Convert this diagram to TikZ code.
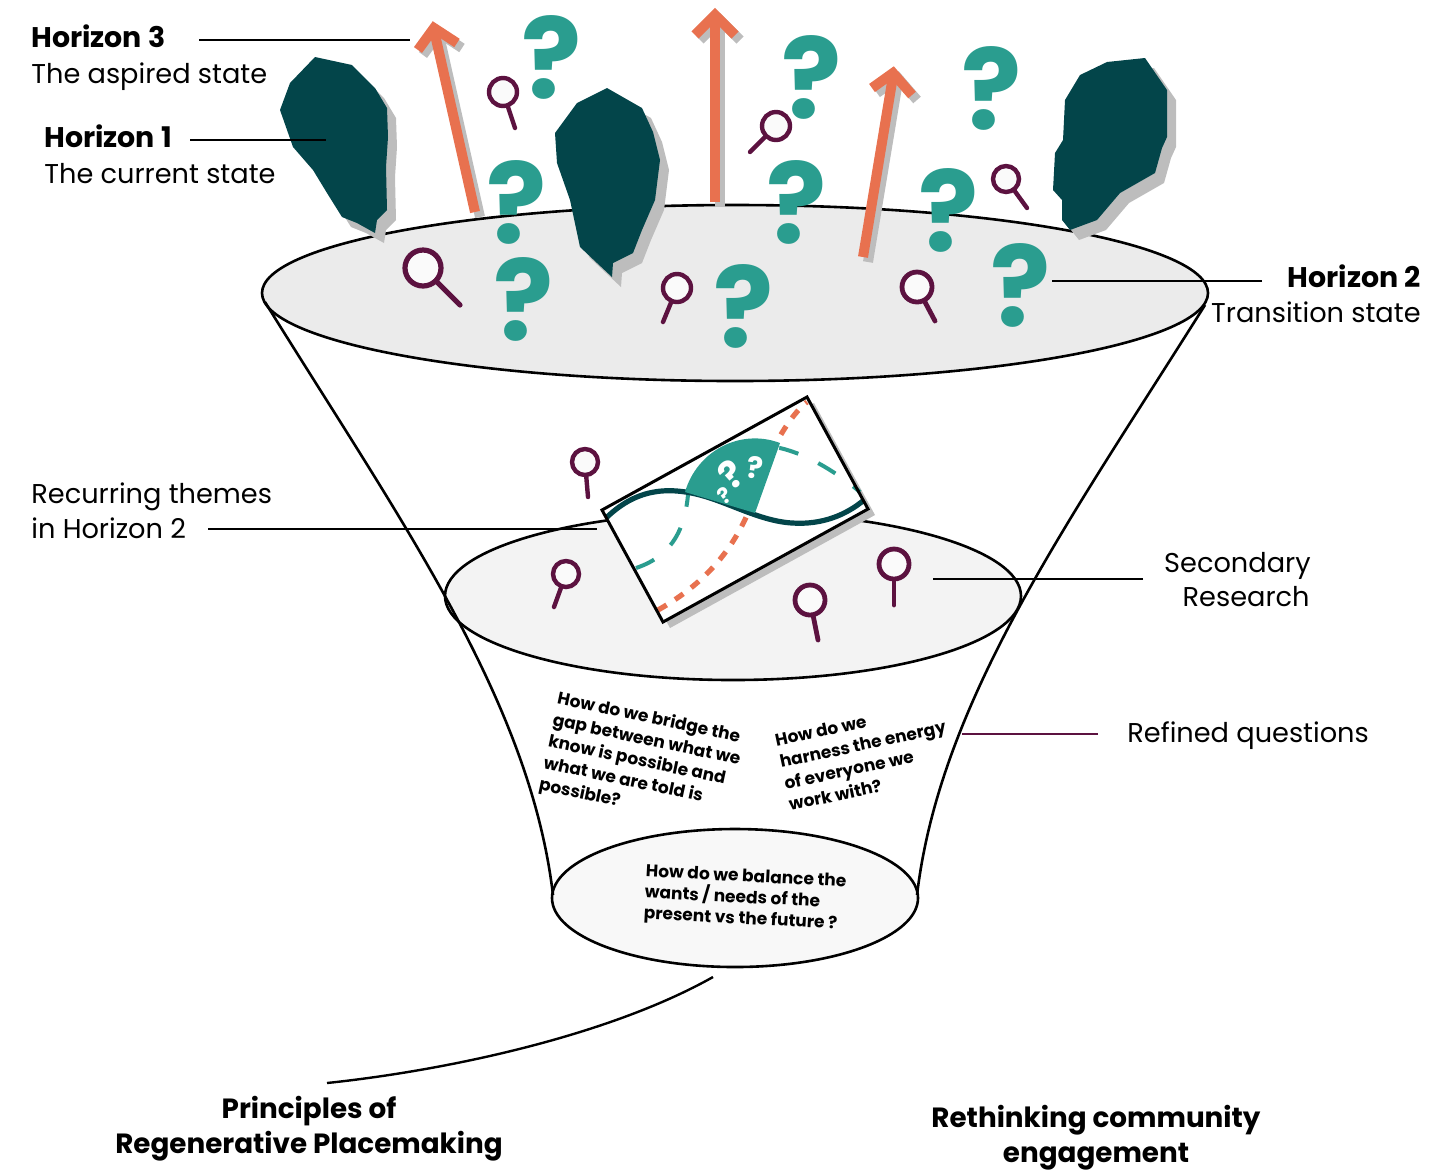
\documentclass[tikz,border=0pt]{standalone}
\usepackage{fontspec}
\setmainfont{Poppins}
\usetikzlibrary{calc}

\definecolor{coral}{HTML}{E8714F}
\definecolor{qteal}{HTML}{2A9D8F}
\definecolor{deepteal}{HTML}{03454A}
\definecolor{plum}{HTML}{5C1240}
\definecolor{shadowgrey}{HTML}{BDBDBD}
\definecolor{rimtop}{HTML}{EBEBEB}
\definecolor{rimmid}{HTML}{F3F3F3}
\definecolor{rimlow}{HTML}{F8F8F8}

% magnifier: centre, radius, end of handle, stroke width
\newcommand{\lens}[4]{%
  \draw[plum, line width=#4, line cap=round] (#1) -- (#3);
  \draw[plum, line width=#4, fill=white!60!rimmid] (#1) circle [radius=#2];}

\begin{document}
\begin{tikzpicture}[x=0.5pt, y=-0.5pt,
  rim/.style={line width=1.3pt, draw=black},
  leader/.style={line width=1.2pt, draw=black},
  lbl/.style={inner sep=0pt, font=\fontsize{13.6}{16}\selectfont},
  lblb/.style={lbl, font=\fontsize{14.2}{16}\selectfont\bfseries},
  capb/.style={inner sep=0pt, align=center, font=\fontsize{13.9}{17.5}\selectfont\bfseries},
  qtext/.style={inner sep=0pt, align=left, font=\fontsize{8.5}{11}\selectfont\bfseries},
  qmark/.style={inner sep=0pt, text=qteal, font=\fontsize{56}{56}\selectfont\bfseries},
  wmark/.style={inner sep=0pt, text=white, font=\bfseries},
  blob/.style={fill=deepteal},
  blobshadow/.style={fill=shadowgrey},
  shaft/.style={draw=coral, line width=5pt},
  shaftshadow/.style={draw=shadowgrey, line width=5pt},
]
\useasboundingbox (0,0) rectangle (1454,1169);

% ---------- funnel ----------
\draw[rim, fill=rimtop] (735,293) ellipse [x radius=473, y radius=88];
\draw[rim, fill=rimmid] (733,596) ellipse [x radius=288, y radius=84];
\draw[rim, fill=rimlow] (735,898) ellipse [x radius=183, y radius=69];
\draw[rim] (265,302) .. controls (400,520) and (530,700) .. (553,895);
\draw[rim] (1205,305) .. controls (1070,520) and (940,700) .. (917,895);

% ---------- horizon 1 shapes ----------
\begin{scope}[shift={(9,10)}]
\fill[blobshadow] (315,57) -- (352,65) -- (375,88) -- (387,108) -- (388,137) -- (386,167) -- (387,210) -- (377,220) -- (375,233) -- (357,223) -- (342,217) -- (327,193) -- (313,170) -- (293,147) -- (280,110) -- (290,83) -- cycle;
\fill[blobshadow] (607,88) -- (642,108) -- (653,132) -- (660,160) -- (655,200) -- (642,230) -- (633,253) -- (613,263) -- (612,277) -- (597,263) -- (580,247) -- (570,200) -- (557,163) -- (555,133) -- (577,103) -- cycle;
\fill[blobshadow] (1145,58) -- (1167,90) -- (1167,137) -- (1162,148) -- (1155,173) -- (1120,193) -- (1097,220) -- (1070,230) -- (1062,220) -- (1062,200) -- (1053,190) -- (1055,153) -- (1063,140) -- (1065,100) -- (1080,75) -- (1107,62) -- cycle;
\end{scope}
\fill[blob] (315,57) -- (352,65) -- (375,88) -- (387,108) -- (388,137) -- (386,167) -- (387,210) -- (377,220) -- (375,233) -- (357,223) -- (342,217) -- (327,193) -- (313,170) -- (293,147) -- (280,110) -- (290,83) -- cycle;
\fill[blob] (607,88) -- (642,108) -- (653,132) -- (660,160) -- (655,200) -- (642,230) -- (633,253) -- (613,263) -- (612,277) -- (597,263) -- (580,247) -- (570,200) -- (557,163) -- (555,133) -- (577,103) -- cycle;
\fill[blob] (1145,58) -- (1167,90) -- (1167,137) -- (1162,148) -- (1155,173) -- (1120,193) -- (1097,220) -- (1070,230) -- (1062,220) -- (1062,200) -- (1053,190) -- (1055,153) -- (1063,140) -- (1065,100) -- (1080,75) -- (1107,62) -- cycle;

% ---------- horizon 3 arrows ----------
\begin{scope}[shift={(5,5)}]
\draw[shaftshadow] (475,212) -- (434,30);
\draw[shaftshadow, miter limit=10] (418,50) -- (434,28) -- (457,43);
\draw[shaftshadow] (715,202) -- (715,18);
\draw[shaftshadow, miter limit=10] (695,35) -- (715,15) -- (735,35);
\draw[shaftshadow] (863,257) -- (893,76);
\draw[shaftshadow, miter limit=10] (872,88) -- (893,73) -- (912,95);
\end{scope}
\draw[shaft] (475,212) -- (434,30);
\draw[shaft, miter limit=10] (418,50) -- (434,28) -- (457,43);
\draw[shaft] (715,202) -- (715,18);
\draw[shaft, miter limit=10] (695,35) -- (715,15) -- (735,35);
\draw[shaft] (863,257) -- (893,76);
\draw[shaft, miter limit=10] (872,88) -- (893,73) -- (912,95);

% ---------- questions of horizon 2 ----------
\node[qmark] (q1) at (552,57) {?};
\node[qmark] (q2) at (517,202) {?};
\node[qmark] (q3) at (524,299) {?};
\node[qmark] (q4) at (744,306) {?};
\node[qmark] (q5) at (812,77) {?};
\node[qmark] (q6) at (797,202) {?};
\node[qmark] (q7) at (949,210) {?};
\node[qmark] (q8) at (992,88) {?};
\node[qmark] (q9) at (1021,285) {?};

% ---------- magnifiers ----------
\lens{503,92}{14}{515,128}{2.2pt}
\lens{423,268}{18}{460,305}{2.6pt}
\lens{677,288}{14}{663,322}{2.2pt}
\lens{776,126}{14}{750,152}{2.2pt}
\lens{1006,179}{13}{1027,208}{2.2pt}
\lens{917,287}{15}{935,321}{2.4pt}
\lens{585,462}{13}{588,497}{2.2pt}
\lens{566,574}{13}{554,607}{2.2pt}
\lens{810,600}{15}{818,640}{2.4pt}
\lens{894,564}{15}{894,605}{2.4pt}

% ---------- map card ----------
\fill[shadowgrey] (609,516) -- (814,403) -- (875,515) -- (670,628) -- cycle;
\fill[white] (602,510) -- (807,397) -- (868,509) -- (663,622) -- cycle;
\draw[coral, line width=2.6pt, dash pattern=on 5pt off 5pt]
  (658,610) .. controls (720,575) and (745,530) .. (760,480) .. controls (770,450) and (790,415) .. (807,402);
\draw[qteal, line width=2pt, dash pattern=on 10pt off 11pt]
  (636,568) .. controls (675,555) and (685,525) .. (688,495) .. controls (690,460) and (740,440) .. (780,448) .. controls (810,455) and (840,475) .. (860,492);
\draw[deepteal, line width=2.6pt]
  (606,518) .. controls (635,490) and (665,486) .. (700,495) .. controls (730,503) and (760,521) .. (792,523) .. controls (822,525) and (846,515) .. (864,500);
\fill[qteal] (755,513) -- (685,492) .. controls (697,451) and (740,428) .. (780,443) -- cycle;
\node[wmark, rotate=40, font=\fontsize{19}{19}\selectfont\bfseries] (w1) at (731,474) {?};
\node[wmark, rotate=-8, font=\fontsize{15}{15}\selectfont\bfseries] (w2) at (755,468) {?};
\node[wmark, rotate=35, font=\fontsize{11}{11}\selectfont\bfseries] (w3) at (725,495) {?};
\draw[line width=1.5pt, line join=miter] (602,510) -- (807,397) -- (868,509) -- (663,622) -- cycle;

% ---------- refined questions ----------
\node[qtext, rotate=-12] (qa) at (642,762) {How do we bridge the\\gap between what we\\know is possible and\\what we are told is\\possible?};
\node[qtext, rotate=12] (qb) at (865,755) {How do we\\harness the energy\\of everyone we\\work with?};
\node[qtext, rotate=-3, font=\fontsize{8.5}{10.6}\selectfont\bfseries] (qc) at (745,899) {How do we balance the\\wants / needs of the\\present vs the future ?};

% ---------- labels ----------
\node[lblb, anchor=base west] (h3) at (31,47) {Horizon 3};
\node[lbl, anchor=base west] (h3s) at (31,83) {The aspired state};
\node[lblb, anchor=base west] (h1) at (44,147) {Horizon 1};
\node[lbl, anchor=base west] (h1s) at (44,183) {The current state};
\node[lblb, anchor=base east] (h2) at (1421,287) {Horizon 2};
\node[lbl, anchor=base east] (h2s) at (1421,322) {Transition state};
\node[lbl, anchor=base west] (rt1) at (31,503) {Recurring themes};
\node[lbl, anchor=base west] (rt2) at (31,538) {in Horizon 2};
\node[lbl, anchor=base east] (sr1) at (1311,572) {Secondary};
\node[lbl, anchor=base east] (sr2) at (1310,606) {Research};
\node[lbl, anchor=base west] (rq) at (1127,742) {Refined questions};
\node[capb] (prp) at (309,1129) {Principles of\\Regenerative Placemaking};
\node[capb] (rce) at (1096,1138) {Rethinking community\\engagement};

% ---------- leader lines ----------
\coordinate (h3a) at (199,40);   \coordinate (h3b) at (410,40);
\coordinate (h1a) at (190,140);  \coordinate (h1b) at (326,140);
\coordinate (h2a) at (1262,281); \coordinate (h2b) at (1052,281);
\coordinate (rta) at (208,529);  \coordinate (rtb) at (597,529);
\coordinate (sra) at (1143,579); \coordinate (srb) at (933,579);
\coordinate (rqa) at (1098,734); \coordinate (rqb) at (962,734);
\coordinate (pra) at (713,977);  \coordinate (prb) at (327,1083);
\draw[leader] (h3a) -- (h3b);
\draw[leader] (h1a) -- (h1b);
\draw[leader] (h2a) -- (h2b);
\draw[leader] (rta) -- (rtb);
\draw[leader] (sra) -- (srb);
\draw[leader, draw=plum] (rqa) -- (rqb);
\draw[leader] (pra) .. controls (610,1035) and (450,1070) .. (prb);
\end{tikzpicture}
\end{document}
